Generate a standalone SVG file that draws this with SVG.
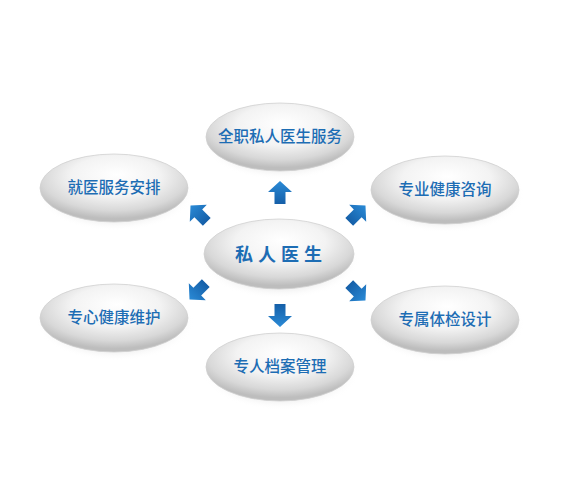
<svg xmlns="http://www.w3.org/2000/svg" width="583" height="504" viewBox="0 0 583 504">
<defs>
<radialGradient id="eg" cx="0.5" cy="0.35" r="0.6" fx="0.52" fy="0.3">
<stop offset="0" stop-color="#ffffff"/>
<stop offset="0.5" stop-color="#f3f3f3"/>
<stop offset="0.82" stop-color="#d8d8d8"/>
<stop offset="1" stop-color="#bdbdbd"/>
</radialGradient>
<radialGradient id="sh" cx="0.5" cy="0.5" r="0.5">
<stop offset="0.6" stop-color="#c4c4c4" stop-opacity="0.6"/>
<stop offset="1" stop-color="#ffffff" stop-opacity="0"/>
</radialGradient>
<linearGradient id="ag" x1="0" y1="0" x2="0" y2="1">
<stop offset="0" stop-color="#2a8ad6"/>
<stop offset="1" stop-color="#155fa8"/>
</linearGradient>
<polygon id="arr" points="0,-12 12,-1 5.5,-1 5.5,11 -5.5,11 -5.5,-1 -12,-1" fill="url(#ag)"/>
</defs>
<style>
.e{fill:url(#eg);stroke:#d0d0d0;stroke-width:0.8}
.s{fill:url(#sh)}
.t{font-family:"Noto Sans CJK SC","Noto Sans",sans-serif;font-size:15.5px;font-weight:500;fill:#1d6db4;text-anchor:middle}
.c{font-size:18px;font-weight:bold;letter-spacing:5px}
</style>
<rect width="583" height="504" fill="#ffffff"/>
<g id="connectors">
<use href="#arr" transform="translate(280,193)"/>
<use href="#arr" transform="translate(280,315) rotate(180)"/>
<use href="#arr" transform="translate(199,214) rotate(-45)"/>
<use href="#arr" transform="translate(357,214) rotate(45)"/>
<use href="#arr" transform="translate(198,291) rotate(-135)"/>
<use href="#arr" transform="translate(357,292) rotate(135)"/>
</g>
<g id="n1">
<ellipse class="s" cx="281" cy="141" rx="79" ry="39"/>
<ellipse class="e" cx="280" cy="137" rx="74" ry="34"/>
<text class="t" x="280" y="142">全职私人医生服务</text>
</g>
<g id="n2">
<ellipse class="s" cx="115" cy="192" rx="79" ry="39"/>
<ellipse class="e" cx="114" cy="188" rx="74" ry="34"/>
<text class="t" x="114" y="193">就医服务安排</text>
</g>
<g id="n3">
<ellipse class="s" cx="446" cy="194" rx="79" ry="39"/>
<ellipse class="e" cx="445" cy="190" rx="74" ry="34"/>
<text class="t" x="445" y="195">专业健康咨询</text>
</g>
<g id="center">
<ellipse class="s" cx="280" cy="259" rx="80" ry="40"/>
<ellipse class="e" cx="279" cy="254" rx="75" ry="35"/>
<text class="t c" x="281" y="261">私人医生</text>
</g>
<g id="n4">
<ellipse class="s" cx="115" cy="322" rx="79" ry="39"/>
<ellipse class="e" cx="114" cy="318" rx="74" ry="34"/>
<text class="t" x="114" y="323">专心健康维护</text>
</g>
<g id="n5">
<ellipse class="s" cx="446" cy="324" rx="79" ry="39"/>
<ellipse class="e" cx="445" cy="320" rx="74" ry="34"/>
<text class="t" x="445" y="325">专属体检设计</text>
</g>
<g id="n6">
<ellipse class="s" cx="281" cy="371" rx="79" ry="39"/>
<ellipse class="e" cx="280" cy="367" rx="74" ry="34"/>
<text class="t" x="280" y="372">专人档案管理</text>
</g>
</svg>
